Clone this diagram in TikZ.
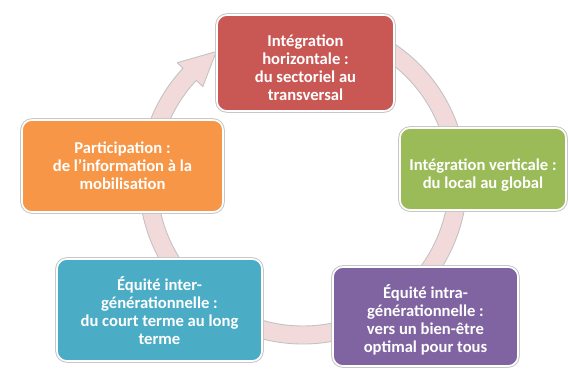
\documentclass[tikz,border=0pt]{standalone}
\usepackage{fontspec}
\setmainfont{Carlito}
\definecolor{cRed}{RGB}{201,88,85}
\definecolor{cGreen}{RGB}{155,187,89}
\definecolor{cOrange}{RGB}{247,150,70}
\definecolor{cBlue}{RGB}{75,172,198}
\definecolor{cPurple}{RGB}{128,100,162}
\definecolor{cRing}{RGB}{242,218,218}
\definecolor{cRingEdge}{RGB}{195,195,195}
\begin{document}
\begin{tikzpicture}[x=1pt,y=1pt,
  box/.style={rounded corners=10pt, draw=white, line width=1.6pt,
    preaction={draw=black!22, line width=3.6pt}, inner sep=0pt},
  lbl/.style={text=white, font=\fontsize{16.6}{18}\selectfont\bfseries,
    align=center, inner sep=0pt},
  ring/.style={fill=cRing, draw=cRingEdge, line width=0.9pt, line join=round}]
\useasboundingbox (0,0) rectangle (568,369);
\coordinate (C) at (303,189);
% continuous cycle ring with arrowhead
\path[ring] ([shift={(62:164pt)}]C)
   arc[start angle=62, end angle=-223, radius=164pt]
   -- ([shift={(137:172pt)}]C)
   -- ([shift={(124:155pt)}]C)
   -- ([shift={(137:137pt)}]C)
   -- ([shift={(137:146pt)}]C)
   arc[start angle=-223, end angle=62, radius=146pt]
   -- cycle;
% boxes
\node[box, fill=cRed, minimum width=177pt, minimum height=96pt] (hor) at (305.5,306) {};
\node[lbl] (horT) at ([yshift=-5pt]hor.center)
  {Intégration\\horizontale :\\du sectoriel au\\transversal};
\node[box, fill=cGreen, minimum width=166pt, minimum height=82pt] (ver) at (483,200) {};
\node[lbl] (verT) at ([yshift=-6pt]ver.center)
  {Intégration verticale :\\du local au global};
\node[box, fill=cPurple, minimum width=185pt, minimum height=99pt] (intra) at (425.5,52.5) {};
\node[lbl] (intraT) at ([yshift=-3pt]intra.center)
  {Équité intra-\\générationnelle :\\vers un bien-être\\optimal pour tous};
\node[box, fill=cBlue, minimum width=205pt, minimum height=102pt] (inter) at (159.5,59) {};
\node[lbl] (interT) at ([yshift=-1pt]inter.center)
  {Équité inter-\\générationnelle :\\du court terme au long\\terme};
\node[box, fill=cOrange, minimum width=201pt, minimum height=92pt] (part) at (122.5,203) {};
\node[lbl] (partT) at (part.center)
  {Participation :\\de l’information à la\\mobilisation};
\end{tikzpicture}
\end{document}
